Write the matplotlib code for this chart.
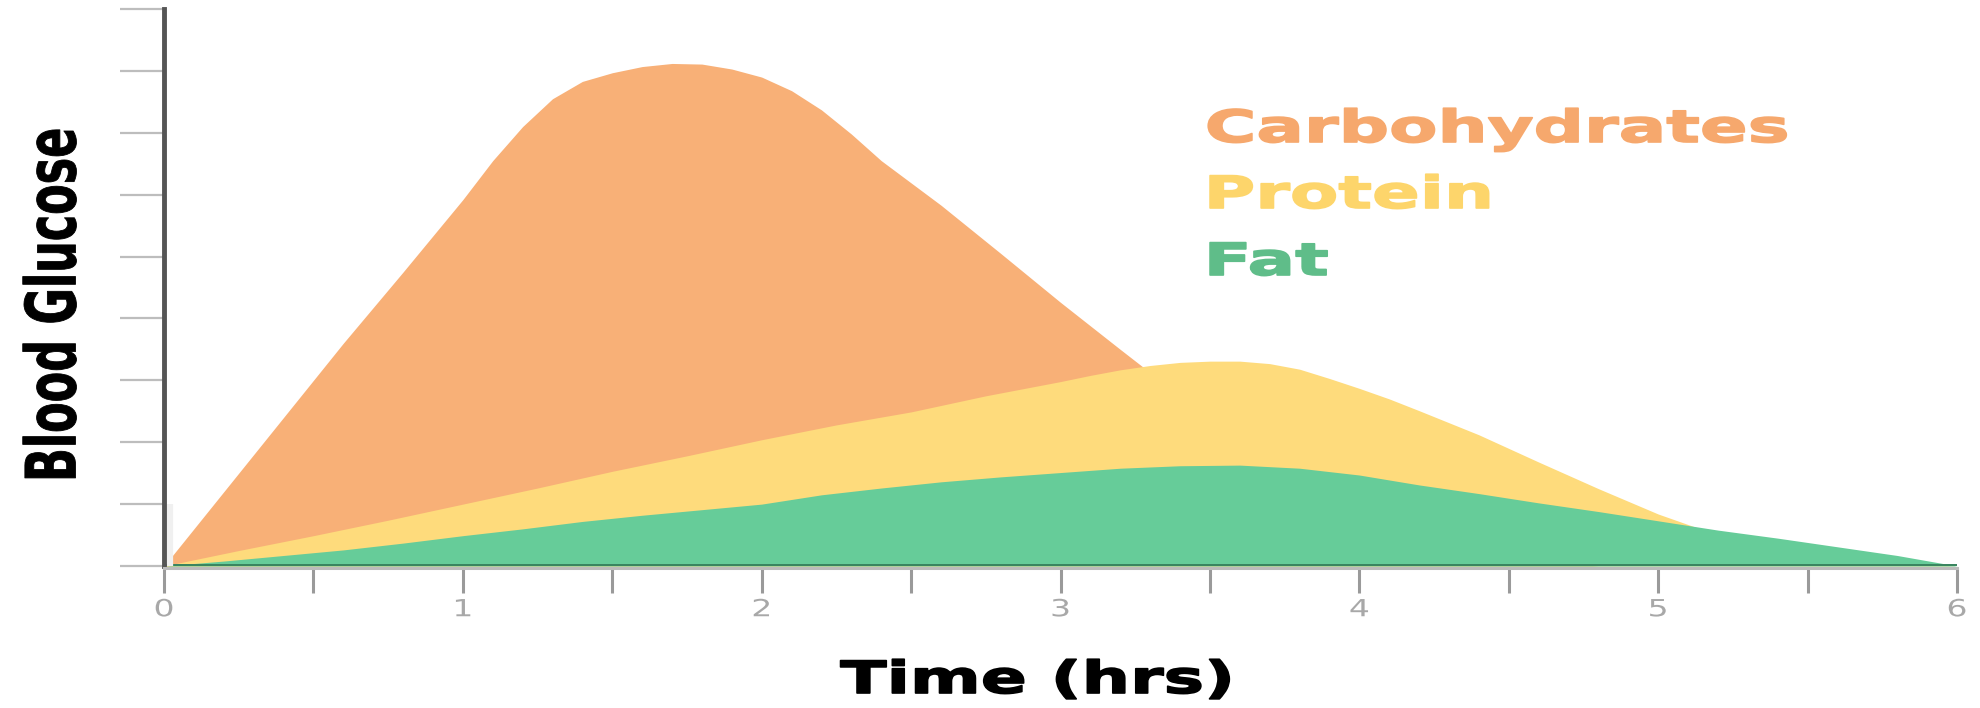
import matplotlib
matplotlib.use("Agg")
import matplotlib.pyplot as plt
from matplotlib import patheffects
from matplotlib.transforms import Affine2D, offset_copy
from matplotlib.ticker import MultipleLocator

# ---------------- data ----------------
carb_hours = [0.0, 0.2, 0.4, 0.6, 0.8, 1.0, 1.1, 1.2, 1.3, 1.4, 1.5, 1.6, 1.7,
              1.8, 1.9, 2.0, 2.1, 2.2, 2.3, 2.4, 2.6, 2.8, 3.0, 3.2, 3.4,
              3.6, 3.8, 4.0, 4.2, 4.4, 4.6, 4.8]
carbohydrates = [0.0, 1.2, 2.4, 3.6, 4.75, 5.92, 6.55, 7.1, 7.55, 7.83, 7.97,
                 8.07, 8.12, 8.11, 8.03, 7.9, 7.68, 7.37, 6.98, 6.55, 5.83,
                 5.05, 4.26, 3.5, 2.75, 2.05, 1.45, 0.95, 0.55, 0.25, 0.08, 0.0]

protein_hours = [0.0, 0.25, 0.5, 0.75, 1.0, 1.25, 1.5, 1.75, 2.0, 2.25, 2.5,
                 2.75, 3.0, 3.1, 3.2, 3.3, 3.4, 3.5, 3.6, 3.7, 3.8, 3.9, 4.0,
                 4.1, 4.2, 4.4, 4.6, 4.8, 5.0, 5.2, 5.4, 5.6, 5.8, 6.0]
protein = [0.0, 0.25, 0.49, 0.74, 1.0, 1.26, 1.53, 1.78, 2.04, 2.28, 2.49,
           2.75, 2.98, 3.08, 3.17, 3.24, 3.29, 3.31, 3.31, 3.27, 3.18, 3.03,
           2.87, 2.7, 2.51, 2.12, 1.68, 1.25, 0.84, 0.5, 0.3, 0.15, 0.05, 0.0]

fat_hours = [0.0, 0.2, 0.4, 0.6, 0.8, 1.0, 1.2, 1.4, 1.6, 1.8, 2.0,
             2.2, 2.4, 2.6, 2.8, 3.0, 3.2, 3.4, 3.6, 3.8, 4.0,
             4.2, 4.4, 4.6, 4.8, 5.0, 5.2, 5.4, 5.6, 5.8, 6.0]
fat = [0.0, 0.08, 0.17, 0.26, 0.37, 0.49, 0.60, 0.72, 0.82, 0.91, 1.0,
       1.15, 1.26, 1.36, 1.44, 1.51, 1.58, 1.62, 1.63, 1.58, 1.47,
       1.31, 1.17, 1.02, 0.88, 0.73, 0.58, 0.45, 0.31, 0.17, 0.0]

series_names = ["Carbohydrates", "Protein", "Fat"]
x_ticks = [0, 1, 2, 3, 4, 5, 6]
x_tick_labels = ["0", "1", "2", "3", "4", "5", "6"]
y_ticks = [0, 1, 2, 3, 4, 5, 6, 7, 8, 9]
x_label = "Time (hrs)"
y_label = "Blood Glucose"

fill_colors = ["#f8b077", "#fedb7c", "#66cc99"]
text_colors = ["#f6a86d", "#fdd56b", "#5fbd89"]


class Stretch(patheffects.AbstractPathEffect):
    """Scale (and optionally embolden) the rendered text path in display space."""

    def __init__(self, sx=1.0, sy=1.0, anchor="center", lw=0.0):
        super().__init__()
        self.sx, self.sy, self.anchor, self.lw = sx, sy, anchor, lw

    def draw_path(self, renderer, gc, tpath, affine, rgbFace=None):
        ext = affine.transform_path(tpath).get_extents()
        cx = ext.x0 if self.anchor == "left" else 0.5 * (ext.x0 + ext.x1)
        cy = 0.5 * (ext.y0 + ext.y1)
        aff = affine + Affine2D().translate(-cx, -cy).scale(self.sx, self.sy).translate(cx, cy)
        gc2 = renderer.new_gc()
        gc2.copy_properties(gc)
        gc2.set_linewidth(self.lw)
        gc2.set_joinstyle("round")
        renderer.draw_path(gc2, tpath, aff, rgbFace)
        gc2.restore()


W, H = 1980, 708
fig = plt.figure(figsize=(W / 100, H / 100), dpi=100)
fig.patch.set_facecolor("white")

x0, x1, ytop, ybot = 164, 1957, 9, 566
ax = fig.add_axes([x0 / W, (H - ybot) / H, (x1 - x0) / W, (ybot - ytop) / H])

for xs, vals, col, z in zip([carb_hours, protein_hours, fat_hours],
                            [carbohydrates, protein, fat], fill_colors, [1.0, 1.1, 1.2]):
    ax.fill_between(xs, vals, 0, color=col, linewidth=0, zorder=z)

ax.axhline(0, color="#3a8560", linewidth=3.6, zorder=2)

ax.set_xlim(0, 6)
ax.set_ylim(0, 9)

# faint light band just right of the y axis line (decoration)
band_tr = offset_copy(ax.get_yaxis_transform(), fig=fig, x=6, units="dots")
ax.plot([0, 0], [0, 1], color="#f0f0f0", linewidth=4.5, zorder=2.2,
        transform=band_tr, solid_capstyle="butt", clip_on=False)

for s in ["top", "right"]:
    ax.spines[s].set_visible(False)
ax.spines["left"].set_color("#555555")
ax.spines["left"].set_linewidth(3.5)
ax.spines["bottom"].set_color("#bbbbbb")
ax.spines["bottom"].set_linewidth(2.2)
ax.spines["bottom"].set_position(("outward", 1.5))
ax.spines["bottom"].set_zorder(3)

ax.set_xticks(x_ticks)
ax.set_xticklabels(x_tick_labels)
ax.xaxis.set_minor_locator(MultipleLocator(0.5))
ax.tick_params(axis="x", which="both", direction="out", length=18, width=2.2,
               color="#9a9a9a", labelsize=17, labelcolor="#a8a8a8", pad=3)
for lab in ax.get_xticklabels():
    lab.set_path_effects([Stretch(sx=1.4)])

ax.set_yticks(y_ticks)
ax.set_yticklabels([])
ax.tick_params(axis="y", which="both", direction="out", length=32, width=1.6,
               color="#bdbdbd")

ax.set_xlabel(x_label, fontsize=32, fontweight="bold", color="black",
              va="baseline", path_effects=[Stretch(sx=1.53, lw=1.2)])
ax.xaxis.set_label_coords((1037 - x0) / (x1 - x0), (ybot - 693) / (ybot - ytop))

ax.set_ylabel(y_label, fontsize=50, fontweight="bold", color="black",
              va="center", path_effects=[Stretch(sy=0.64, lw=0.6)])
ax.yaxis.set_label_coords((56 - x0) / (x1 - x0), (ybot - 305) / (ybot - ytop))

baselines = [142, 208, 275]
for name, col, yb in zip(series_names, text_colors, baselines):
    fig.text(1206 / W, 1 - yb / H, name, fontsize=32, fontweight="bold",
             color=col, ha="left", va="baseline",
             path_effects=[Stretch(sx=1.585, anchor="left", lw=1.2)])

fig.savefig("out.png", dpi=100, facecolor="white")
